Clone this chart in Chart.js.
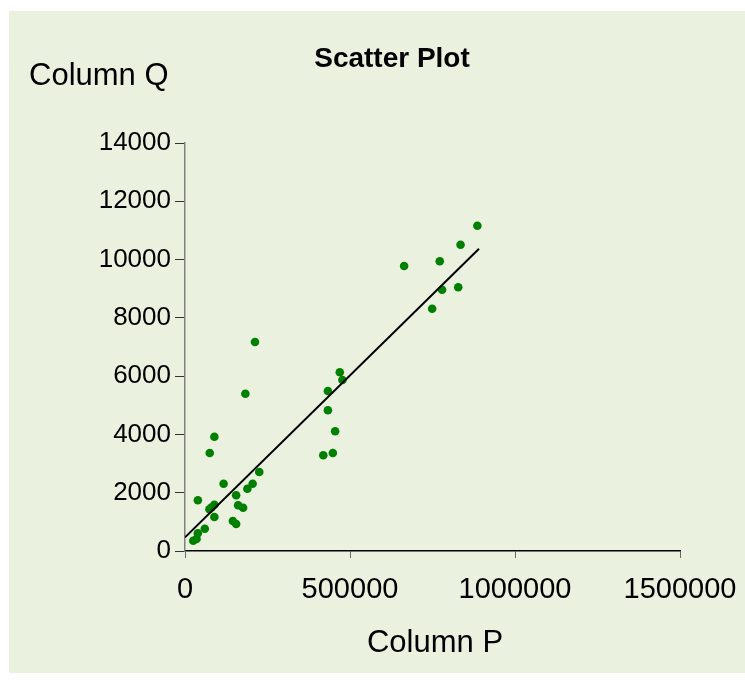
<!DOCTYPE html>
<html>
<head>
<meta charset="utf-8">
<script src="https://cdn.jsdelivr.net/npm/chart.js@4"></script>
<style>
  html, body { margin: 0; padding: 0; background: #fff; }
  #wrap { width: 745px; height: 680px; position: relative; }
</style>
</head>
<body>
<div id="wrap"><canvas id="scatterChart"></canvas></div>
<script>
// values
const columnP = [212000, 183000, 89000, 75000, 225000, 117000, 205000, 189000, 155000, 39000,
  89000, 74000, 81000, 161000, 176000, 89000, 145000, 155000, 60000, 39000,
  25000, 35000,
  886000, 835000, 664000, 772000, 779000, 828000, 749000, 469000, 477000, 433000,
  433000, 455000, 419000, 448000];
const columnQ = [7172, 5398, 3922, 3363, 2711, 2310, 2310, 2138, 1911, 1740,
  1589, 1431, 1500, 1568, 1486, 1167, 1030, 927, 765, 607,
  353, 412,
  11163, 10511, 9780, 9942, 8967, 9049, 8315, 6132, 5868, 5491,
  4828, 4108, 3284, 3363];
const trendP = [0, 891000];
const trendQ = [470, 10374];
const xTicks = [0, 500000, 1000000, 1500000];
const yTicks = [0, 2000, 4000, 6000, 8000, 10000, 12000, 14000];

const FONT = "'Liberation Sans', Arial, sans-serif";

const panelPlugin = {
  id: "panel",
  beforeDraw(chart) {
    const ctx = chart.ctx;
    ctx.save();
    ctx.fillStyle = "#ffffff";
    ctx.fillRect(0, 0, chart.width, chart.height);
    ctx.fillStyle = "#eaf1de";
    ctx.fillRect(9, 11, chart.width - 9, 662);
    ctx.restore();
  },
  afterDraw(chart) {
    const ctx = chart.ctx;
    ctx.save();
    ctx.fillStyle = "#000";
    ctx.textBaseline = "alphabetic";
    ctx.font = "bold 28px " + FONT;
    ctx.textAlign = "center";
    ctx.fillText("Scatter Plot", 392, 67);
    ctx.font = "31px " + FONT;
    ctx.textAlign = "left";
    ctx.fillText("Column Q", 29, 85);
    ctx.textAlign = "center";
    ctx.fillText("Column P", 435, 652);
    ctx.restore();
  },
};

new Chart(document.getElementById("scatterChart"), {
  type: "scatter",
  data: {
    datasets: [
      {
        type: "line",
        data: trendP.map((x, i) => ({ x, y: trendQ[i] })),
        borderColor: "#000",
        borderWidth: 2,
        pointRadius: 0,
        fill: false,
        order: 0,
      },
      {
        data: columnP.map((x, i) => ({ x, y: columnQ[i] })),
        backgroundColor: "#008000",
        borderWidth: 0,
        pointRadius: 4.3,
        order: 1,
      },
    ],
  },
  options: {
    responsive: true,
    maintainAspectRatio: false,
    animation: false,
    layout: { padding: { top: 143, right: 65, left: 0, bottom: 0 } },
    plugins: {
      legend: { display: false },
      tooltip: { enabled: false },
      title: { display: false },
    },
    scales: {
      x: {
        type: "linear",
        min: 0,
        max: 1500000,
        afterBuildTicks: (scale) => { scale.ticks = xTicks.map((value) => ({ value })); },
        afterFit: (scale) => {
          scale.height = 129;
          scale.paddingLeft = 0;
          scale.paddingRight = 0;
        },
        ticks: {
          color: "#000",
          font: { family: FONT, size: 29 },
          padding: 15,
          maxRotation: 0,
          callback: (v) => String(v),
        },
        grid: { drawOnChartArea: false, drawTicks: true, tickLength: 7, color: "#666" },
        border: { color: "#000", width: 1.5 },
      },
      y: {
        min: 0,
        max: 14000,
        afterBuildTicks: (scale) => { scale.ticks = yTicks.map((value) => ({ value })); },
        afterFit: (scale) => {
          scale.width = 185;
          scale.paddingTop = 0;
          scale.paddingBottom = 0;
        },
        ticks: {
          color: "#000",
          font: { family: FONT, size: 26 },
          padding: 4,
          callback: (v) => String(v),
        },
        grid: { drawOnChartArea: false, drawTicks: true, tickLength: 10, color: "#333" },
        border: { color: "#808080", width: 1.5 },
      },
    },
  },
  plugins: [panelPlugin],
});
</script>
</body>
</html>
